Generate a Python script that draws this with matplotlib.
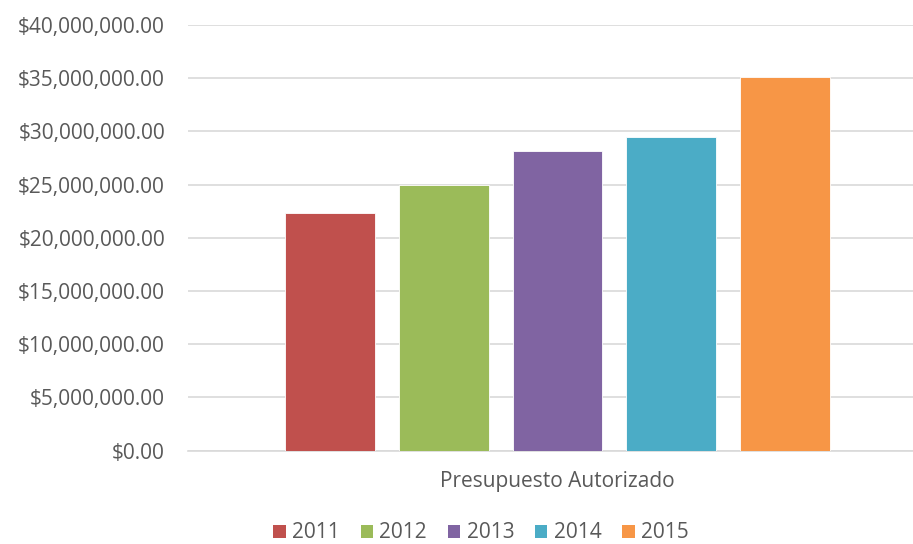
import matplotlib.pyplot as plt
from matplotlib.ticker import FuncFormatter, MultipleLocator
from matplotlib.patches import Patch

years = ['2011', '2012', '2013', '2014', '2015']
presupuesto = [22380000, 24950000, 28150000, 29480000, 35120000]
colors = ['#C0504D', '#9BBB59', '#8064A2', '#4BACC6', '#F79646']
category = 'Presupuesto Autorizado'

plt.rcParams['font.family'] = ['Open Sans', 'DejaVu Sans']
text_color = '#595959'

fig = plt.figure(figsize=(9.13, 5.44), dpi=100)
ax = fig.add_axes([188 / 913, (544 - 450.7) / 544, (913 - 188) / 913, (450.7 - 25) / 544])

x = range(len(years))
ax.bar(x, presupuesto, width=0.79, color=colors, edgecolor='white', linewidth=0.6, zorder=3)

ax.set_xlim(-1.248, 5.125)
ax.set_ylim(0, 40000000)
ax.yaxis.set_major_locator(MultipleLocator(5000000))
ax.yaxis.set_major_formatter(FuncFormatter(lambda v, p: '${:,.2f}'.format(v)))
ax.grid(axis='y', color='#D9D9D9', linewidth=1.2, zorder=0)
ax.set_xticks([])

for s in ['top', 'right', 'left']:
    ax.spines[s].set_visible(False)
ax.spines['bottom'].set_color('#D9D9D9')
ax.spines['bottom'].set_linewidth(1.2)
ax.tick_params(axis='y', length=0, pad=16.5, labelsize=15, labelcolor=text_color)

# category label under the group of bars
fig.text(557.5 / 913, 1 - 482 / 544, category, ha='center', va='center',
         fontsize=15, color=text_color)

handles = [Patch(facecolor=c, edgecolor='none') for c in colors]
fig.legend(handles, years, loc='center', bbox_to_anchor=(481 / 913, 1 - 533 / 544),
           ncol=5, frameon=False, fontsize=15, labelcolor=text_color,
           handlelength=0.6, handleheight=0.6, handletextpad=0.3, columnspacing=1.0)

fig.savefig('out.png', dpi=100)
